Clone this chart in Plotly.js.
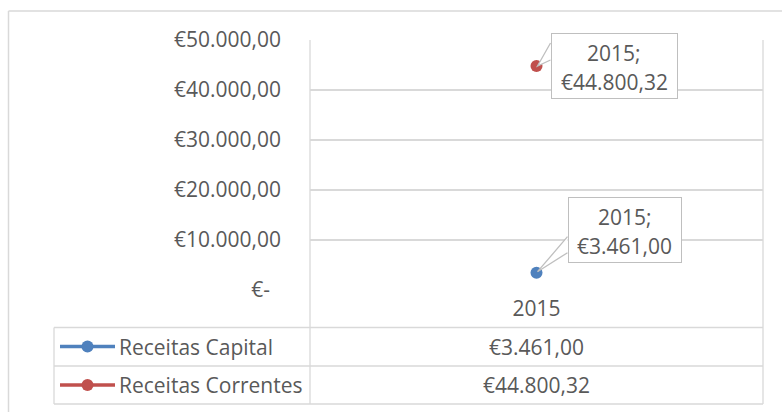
<!DOCTYPE html>
<html>
<head>
<meta charset="utf-8">
<script src="https://cdn.plot.ly/plotly-3.0.1.min.js"></script>
<style>html,body{margin:0;padding:0;background:#fff;}#chart{width:782px;height:412px;}</style>
</head>
<body>
<div id="chart"></div>
<script>
// ---- data ----
const categories = ['2015'];
const seriesNames = ['Receitas Capital', 'Receitas Correntes'];
const receitasCapital = [3461.00];
const receitasCorrentes = [44800.32];
const yTickVals = [0, 10000, 20000, 30000, 40000, 50000];
const yTickText = ['€-\u00a0\u00a0', '€10.000,00', '€20.000,00', '€30.000,00', '€40.000,00', '€50.000,00'];
const seriesColors = ['#4F81BD', '#C0504D'];

// ---- helpers ----
function fmtEuro(v) {
  const parts = v.toFixed(2).split('.');
  const intPart = parts[0].replace(/\B(?=(\d{3})+(?!\d))/g, '.');
  return '€' + intPart + ',' + parts[1];
}
const W = 782, H = 412;
const M = {l: 310, r: 19, t: 40, b: 122};
const PW = W - M.l - M.r, PH = H - M.t - M.b;
const X = px => (px - M.l) / PW;
const Y = py => (H - M.b - py) / PH;

const FONT = '"Open Sans", Lato, sans-serif';
const TXT = '#595959';
const GRID = '#d9d9d9';
const FS = 21;

const allSeries = [receitasCapital, receitasCorrentes];
const catIndex = 0; // position of categories[0] on the category axis

const traces = allSeries.map((vals, i) => ({
  type: 'scatter', mode: 'lines+markers',
  x: categories, y: vals, name: seriesNames[i],
  line: {color: seriesColors[i], width: 3.5},
  marker: {color: seriesColors[i], size: 12},
  cliponaxis: false, hoverinfo: 'skip', showlegend: false
}));

const shapes = [];
const annotations = [];
function line(x0, y0, x1, y1, w) {
  shapes.push({type: 'line', xref: 'paper', yref: 'paper', x0: X(x0), y0: Y(y0), x1: X(x1), y1: Y(y1),
    line: {color: GRID, width: w || 1.3}, layer: 'above'});
}
// outer chart border (left + top)
line(8.5, 412, 8.5, 11, 1.5);
line(8.5, 11, 782, 11, 1.5);
// plot / table frame
line(310, 40, 310, 404);
line(763, 40, 763, 404);
line(54, 327.5, 763, 327.5);
line(54, 366, 763, 366);
line(54, 404, 763, 404);
line(54, 327.5, 54, 404);

// data table rows
const rowCenters = [346.5, 385];
seriesNames.forEach((name, i) => {
  const yc = rowCenters[i];
  shapes.push({type: 'line', xref: 'paper', yref: 'paper', x0: X(60), x1: X(115), y0: Y(yc), y1: Y(yc),
    line: {color: seriesColors[i], width: 3.5}, layer: 'above'});
  shapes.push({type: 'circle', xref: 'paper', yref: 'paper', xsizemode: 'pixel', ysizemode: 'pixel',
    xanchor: X(87.5), yanchor: Y(yc), x0: -6, x1: 6, y0: -6, y1: 6,
    fillcolor: seriesColors[i], line: {width: 0}, layer: 'above'});
  annotations.push({xref: 'paper', yref: 'paper', x: X(117), y: Y(yc), xanchor: 'left', yanchor: 'middle',
    text: name, showarrow: false, font: {family: FONT, size: FS, color: TXT}});
  annotations.push({xref: 'x', yref: 'paper', x: catIndex, y: Y(yc), xanchor: 'center', yanchor: 'middle',
    text: fmtEuro(allSeries[i][0]), showarrow: false, font: {family: FONT, size: FS, color: TXT}});
});

// data label callouts (offsets in pixels from the point, +y = up)
const callouts = [
  {bx: 88, by: 43, bw: 114, bh: 66, wedge: 'M31,36 L1,1 L31,20', tx: 88, l1: 56, l2: 27},
  {bx: 77.5, by: 0, bw: 127, bh: 66, wedge: 'M14,23 L1,0 L14,6', tx: 77.5, l1: 13, l2: -16}
];
allSeries.forEach((vals, i) => {
  const c = callouts[i];
  shapes.push({type: 'path', xref: 'x', yref: 'y', xsizemode: 'pixel', ysizemode: 'pixel',
    xanchor: catIndex, yanchor: vals[0], path: c.wedge,
    fillcolor: '#ffffff', line: {color: '#bfbfbf', width: 1.3}, layer: 'above'});
  annotations.push({xref: 'x', yref: 'y', x: catIndex, y: vals[0], xshift: c.bx, yshift: c.by,
    text: '\u00a0', width: c.bw - 2, height: c.bh - 2, borderpad: 0, borderwidth: 1,
    bordercolor: '#bfbfbf', bgcolor: '#ffffff', showarrow: false, font: {family: FONT, size: FS, color: TXT}});
});
allSeries.forEach((vals, i) => {
  const c = callouts[i];
  annotations.push({xref: 'x', yref: 'y', x: catIndex, y: vals[0], xshift: c.tx, yshift: c.l1,
    text: categories[0] + ';', showarrow: false, font: {family: FONT, size: FS, color: TXT}});
  annotations.push({xref: 'x', yref: 'y', x: catIndex, y: vals[0], xshift: c.tx, yshift: c.l2,
    text: fmtEuro(vals[0]), showarrow: false, font: {family: FONT, size: FS, color: TXT}});
});

const layout = {
  width: W, height: H,
  margin: M,
  paper_bgcolor: '#ffffff', plot_bgcolor: '#ffffff',
  showlegend: false,
  font: {family: FONT, size: FS, color: TXT},
  xaxis: {type: 'category', range: [-0.5, 0.5], showgrid: false, zeroline: false, showline: false,
    ticks: '', ticklabelstandoff: 4, tickfont: {family: FONT, size: FS, color: TXT}, fixedrange: true},
  yaxis: {range: [0, 50000], tickvals: yTickVals, ticktext: yTickText, showgrid: true, gridcolor: GRID,
    gridwidth: 1.3, zeroline: false, showline: false, ticks: '', ticklabelstandoff: 28,
    tickfont: {family: FONT, size: FS, color: TXT}, fixedrange: true},
  shapes: shapes,
  annotations: annotations
};

Plotly.newPlot('chart', traces, layout, {staticPlot: true, displayModeBar: false});
</script>
</body>
</html>
